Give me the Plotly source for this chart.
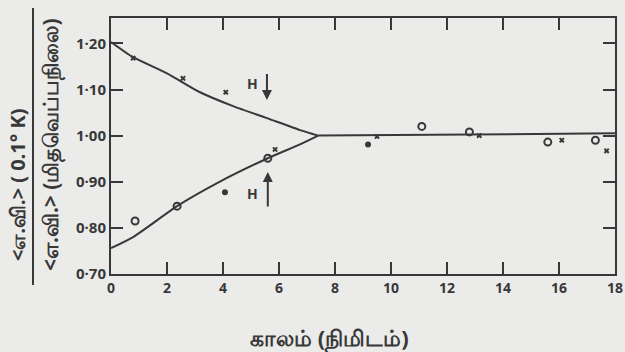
import plotly.graph_objects as go

# ---- data ----
upper_curve_x = [0, 0.79, 2.0, 3.18, 4.36, 5.57, 6.75, 7.4]
upper_curve_y = [1.203, 1.170, 1.135, 1.094, 1.064, 1.038, 1.012, 1.000]
lower_curve_x = [0, 0.79, 2.36, 3.79, 5.6, 6.75, 7.4]
lower_curve_y = [0.756, 0.780, 0.847, 0.897, 0.951, 0.981, 1.000]
flat_x = [7.4, 18]
flat_y = [1.000, 1.005]

circle_x = [0.86, 2.36, 5.6, 11.1, 12.8, 15.6, 17.3]
circle_y = [0.815, 0.847, 0.951, 1.020, 1.008, 0.986, 0.990]
dot_x = [4.07, 9.18]
dot_y = [0.877, 0.981]
cross_x = [0.79, 2.57, 4.1, 5.86, 9.5, 13.15, 16.1, 17.7]
cross_y = [1.168, 1.124, 1.094, 0.970, 0.998, 1.000, 0.990, 0.967]

x_ticks = [0, 2, 4, 6, 8, 10, 12, 14, 16, 18]
y_ticks = [0.70, 0.80, 0.90, 1.00, 1.10, 1.20]
y_tick_labels = ["0·70", "0·80", "0·90", "1·00", "1·10", "1·20"]

ink = "#383838"
bg = "#ebebe9"
font = "Noto Sans, DejaVu Sans, sans-serif"

fig = go.Figure()
for xs, ys in [(upper_curve_x, upper_curve_y), (lower_curve_x, lower_curve_y), (flat_x, flat_y)]:
    fig.add_trace(go.Scatter(x=xs, y=ys, mode="lines", line=dict(color=ink, width=2, shape="spline", smoothing=0.6),
                             showlegend=False, hoverinfo="skip", cliponaxis=False))
fig.add_trace(go.Scatter(x=circle_x, y=circle_y, mode="markers",
                         marker=dict(symbol="circle-open", size=7, color=ink, line=dict(width=2, color=ink)),
                         showlegend=False))
fig.add_trace(go.Scatter(x=dot_x, y=dot_y, mode="markers",
                         marker=dict(symbol="circle", size=6, color=ink), showlegend=False))
fig.add_trace(go.Scatter(x=cross_x, y=cross_y, mode="markers",
                         marker=dict(symbol="x", size=5, color=ink, line=dict(width=0)), showlegend=False))

# H annotations with arrows
fig.add_annotation(x=5.04, y=1.113, text="<b>H</b>", showarrow=False, font=dict(size=14, color=ink, family=font))
fig.add_annotation(x=5.57, y=1.077, ax=5.57, ay=1.137, xref="x", yref="y", axref="x", ayref="y",
                   showarrow=True, arrowhead=2, arrowsize=1, arrowwidth=2, arrowcolor=ink, text="")
fig.add_annotation(x=5.07, y=0.875, text="<b>H</b>", showarrow=False, font=dict(size=14, color=ink, family=font))
fig.add_annotation(x=5.6, y=0.921, ax=5.6, ay=0.843, xref="x", yref="y", axref="x", ayref="y",
                   showarrow=True, arrowhead=2, arrowsize=1, arrowwidth=2, arrowcolor=ink, text="")

FW, FH = 625, 352
L, R, T, B = 111, 615, 18, 274
W, H = R - L, B - T
def px(p):
    return (p - L) / W
def py(p):
    return (B - p) / H

fig.add_annotation(xref="paper", yref="paper", x=px(17), y=py(185), xanchor="center", yanchor="middle",
                   text="<b>&lt;எ.வி.&gt; ( 0.1° K)</b>",
                   textangle=-90, showarrow=False, font=dict(size=20, color=ink, family=font))
fig.add_annotation(xref="paper", yref="paper", x=px(51), y=py(145), xanchor="center", yanchor="middle",
                   text="<b>&lt;எ.வி.&gt; (மிதவெப்பநிலை)</b>",
                   textangle=-90, showarrow=False, font=dict(size=21, color=ink, family=font))
fig.add_shape(type="line", xref="paper", yref="paper", x0=px(33), x1=px(33), y0=py(8), y1=py(285),
              line=dict(color=ink, width=2))
# X title
fig.add_annotation(xref="paper", yref="paper", x=px(329), y=py(338), xanchor="center", yanchor="middle",
                   text="<b>காலம் (நிமிடம்)</b>", showarrow=False,
                   font=dict(size=22, color=ink, family=font))

fig.update_layout(
    width=FW, height=FH,
    margin=dict(l=L, r=FW - R, t=T, b=FH - B),
    paper_bgcolor=bg, plot_bgcolor=bg,
    font=dict(family=font, color=ink, size=13),
    xaxis=dict(range=[0, 18], tickvals=x_ticks, ticktext=[f"<b>{v}</b>" for v in x_ticks],
               ticks="inside", ticklen=12, tickwidth=2, tickcolor=ink, mirror="ticks",
               showline=True, linecolor=ink, linewidth=2, showgrid=False, zeroline=False,
               automargin=False, tickfont=dict(size=14)),
    yaxis=dict(range=[0.70, 1.255], tickvals=y_ticks, ticktext=[f"<b>{t}</b>" for t in y_tick_labels],
               ticks="inside", ticklen=12, tickwidth=2, tickcolor=ink, mirror="ticks",
               showline=True, linecolor=ink, linewidth=2, showgrid=False, zeroline=False,
               automargin=False, tickfont=dict(size=15)),
)

fig.write_html("out.html", config={"displayModeBar": False},
               post_script="document.body.style.margin='0';document.body.style.background='%s';" % bg)
